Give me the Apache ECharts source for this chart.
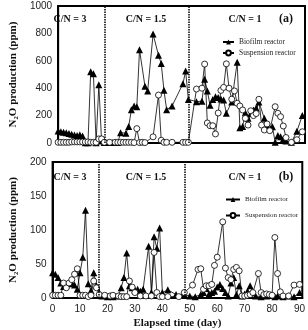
<!DOCTYPE html>
<html>
<head>
<meta charset="utf-8">
<script src="https://cdn.jsdelivr.net/npm/echarts@6/dist/echarts.min.js"></script>
<style>
  html, body { margin: 0; padding: 0; background: #fff; }
  #main { width: 308px; height: 330px; }
</style>
</head>
<body>
<div id="main"></div>
<script>
// [day, ppm]
const biofilmA = [[0,88],[1,82],[2,78],[3,74],[4,70],[5,64],[6,58],[7,55],[8,60],[9,52],[10,2],[11,2],[12,520],[13,505],[14,2],[15,425],[16,15],[17,3],[18,3],[19,3],[20,3],[21,3],[22,3],[23,75],[25,72],[26,120],[27,243],[28,270],[29,265],[30,680],[32,415],[33,380],[35,795],[37,640],[38,580],[39,385],[40,243],[42,270],[46,433],[47,525],[48,318],[51,302],[53,305],[54,465],[55,380],[56,275],[57,318],[58,338],[59,333],[60,322],[61,314],[62,217],[64,300],[66,590],[67,112],[68,120],[69,220],[70,180],[71,215],[72,240],[73,255],[74,300],[76,180],[77,120],[79,118],[80,5],[81,55],[82,45],[83,30],[84,15],[86,5],[88,85],[90,200]];
const suspensionA = [[0,5],[1,5],[2,5],[3,5],[4,5],[5,8],[6,8],[7,8],[8,8],[9,8],[10,8],[11,8],[12,5],[13,5],[14,5],[15,30],[16,30],[17,5],[19,5],[21,5],[22,5],[23,5],[24,5],[25,5],[26,5],[27,5],[28,3],[29,105],[30,3],[31,5],[32,3],[35,45],[37,350],[38,20],[39,5],[40,5],[42,5],[46,5],[47,5],[48,5],[51,394],[53,400],[54,576],[55,146],[56,126],[57,126],[58,66],[59,219],[60,384],[61,406],[62,578],[63,400],[64,320],[65,380],[66,290],[67,270],[68,241],[69,180],[70,131],[71,235],[72,200],[73,215],[74,319],[75,131],[76,95],[77,139],[78,90],[80,265],[81,217],[82,192],[83,124],[84,40],[86,5],[88,24],[90,82]];
const biofilmB = [[0,37],[1,35],[2,30],[3,22],[4,17],[5,19],[6,21],[7,22],[8,19],[9,13],[10,37],[11,60],[12,129],[13,21],[14,11],[15,37],[16,18],[17,8],[18,3],[20,2],[22,2],[24,3],[25,15],[26,30],[27,66],[28,18],[29,15],[30,12],[31,13],[32,10],[33,13],[35,76],[36,8],[37,90],[38,73],[39,103],[40,8],[42,12],[45,5],[48,5],[50,3],[52,2],[54,5],[55,8],[56,14],[57,6],[58,8],[59,10],[60,16],[61,20],[62,14],[63,8],[64,3],[65,22],[66,30],[67,5],[68,18],[69,3],[70,6],[71,10],[72,18],[73,8],[74,3],[76,2],[78,3],[80,4],[81,2],[82,3],[84,2],[86,3],[88,2],[90,8]];
const suspensionB = [[0,4],[1,4],[2,4],[3,4],[4,22],[5,15],[6,22],[7,27],[8,35],[9,43],[10,4],[11,4],[12,4],[13,2],[14,4],[15,25],[16,15],[17,5],[19,4],[21,3],[22,4],[24,3],[25,2],[26,2],[27,2],[28,25],[29,16],[30,8],[32,3],[34,3],[36,3],[37,67],[38,8],[39,2],[40,2],[42,2],[46,2],[48,8],[51,19],[53,42],[54,43],[55,13],[56,18],[57,18],[58,20],[59,48],[60,60],[62,112],[63,44],[64,30],[65,27],[66,42],[67,45],[68,40],[69,3],[70,3],[71,4],[72,5],[73,8],[75,36],[76,8],[77,5],[78,6],[79,5],[80,4],[81,89],[82,36],[83,9],[84,3],[86,3],[88,19],[90,20]];
const phaseBreaks = [17, 48];
const phaseLabels = ['C/N = 3', 'C/N = 1.5', 'C/N = 1'];
const yTicksA = { max: 1000, interval: 200 };
const yTicksB = { max: 200, interval: 50 };

const serif = 'Liberation Serif, DejaVu Serif, serif';
const sans = 'Liberation Sans, Arial, sans-serif';

const chart = echarts.init(document.getElementById('main'));

function xAxis(idx, showLabels) {
  return {
    type: 'value', gridIndex: idx, min: 0, max: 91, interval: 10,
    axisLine: { show: true, onZero: false, lineStyle: { color: '#000', width: 2 } },
    axisTick: { show: false },
    splitLine: { show: false },
    axisLabel: {
      show: showLabels, color: '#222', fontSize: 10, fontFamily: sans, margin: 6,
      formatter: v => (v % 10 === 0 ? String(v) : '')
    },
    name: showLabels ? 'Elapsed time (day)' : '',
    nameLocation: 'middle', nameGap: 20,
    nameTextStyle: { fontFamily: serif, fontWeight: 'bold', fontSize: 11, color: '#111' }
  };
}
function yAxis(idx, t) {
  return {
    type: 'value', gridIndex: idx, min: 0, max: t.max, interval: t.interval,
    axisLine: { show: true, lineStyle: { color: '#000', width: 2 } },
    axisTick: { show: false },
    splitLine: { show: false },
    axisLabel: { color: '#222', fontSize: 10, fontFamily: sans, margin: 6, formatter: v => String(v) },
    name: 'N\u2082O production (ppm)', nameLocation: 'middle', nameGap: 24,
    nameTextStyle: { fontFamily: serif, fontWeight: 'bold', fontSize: 11, color: '#111' }
  };
}
function breakLines() {
  return {
    silent: true, symbol: 'none', label: { show: false },
    lineStyle: { color: '#000', type: [1.5, 1], width: 1.5 },
    data: phaseBreaks.map(d => ({ xAxis: d }))
  };
}
function bioSeries(idx, data, withBreaks) {
  return {
    name: 'Biofilm reactor', type: 'line', xAxisIndex: idx, yAxisIndex: idx,
    data: data, symbol: 'triangle', symbolSize: 7,
    itemStyle: { color: '#000' }, lineStyle: { color: '#000', width: 0.8 },
    animation: false, z: 3,
    markLine: withBreaks ? breakLines() : undefined
  };
}
function suspSeries(idx, data) {
  return {
    name: 'Suspension reactor', type: 'line', xAxisIndex: idx, yAxisIndex: idx,
    data: data, symbol: 'circle', symbolSize: 6, showAllSymbol: true,
    itemStyle: { color: '#fff', borderColor: '#000', borderWidth: 0.8 },
    lineStyle: { color: '#000', width: 0.8 }, animation: false, z: 4
  };
}
function legend(top, left, gap, iconW, fontSize) {
  return {
    orient: 'vertical', left: left, top: top, itemGap: gap, itemWidth: iconW, itemHeight: 6,
    textStyle: { fontFamily: serif, fontSize: fontSize, color: '#222' },
    data: ['Biofilm reactor', 'Suspension reactor']
  };
}
function texts(y, tag) {
  const xs = [70, 146, 245];
  const out = phaseLabels.map((s, i) => ({
    type: 'text', x: xs[i], y: y,
    style: { text: s, font: 'bold 10px ' + serif, fill: '#111', textAlign: 'center', textVerticalAlign: 'middle' }
  }));
  out.push({
    type: 'text', x: 286, y: y,
    style: { text: tag, font: 'bold 12px ' + serif, fill: '#111', textAlign: 'center', textVerticalAlign: 'middle' }
  });
  return out;
}

chart.setOption({
  backgroundColor: '#fff',
  animation: false,
  grid: [
    { left: 43, top: 6, width: 262, height: 137, show: true, borderColor: '#000', borderWidth: 2 },
    { left: 43, top: 162, width: 262, height: 139, show: true, borderColor: '#000', borderWidth: 2 }
  ],
  xAxis: [xAxis(0, false), xAxis(1, true)],
  yAxis: [yAxis(0, yTicksA), yAxis(1, yTicksB)],
  legend: [legend(33, 217, 3, 11, 7.5), legend(191, 220, 9, 14, 7)],
  series: [
    bioSeries(0, biofilmA, true), suspSeries(0, suspensionA),
    bioSeries(1, biofilmB, true), suspSeries(1, suspensionB)
  ],
  graphic: texts(19, '(a)').concat(texts(177, '(b)'))
});
</script>
</body>
</html>
